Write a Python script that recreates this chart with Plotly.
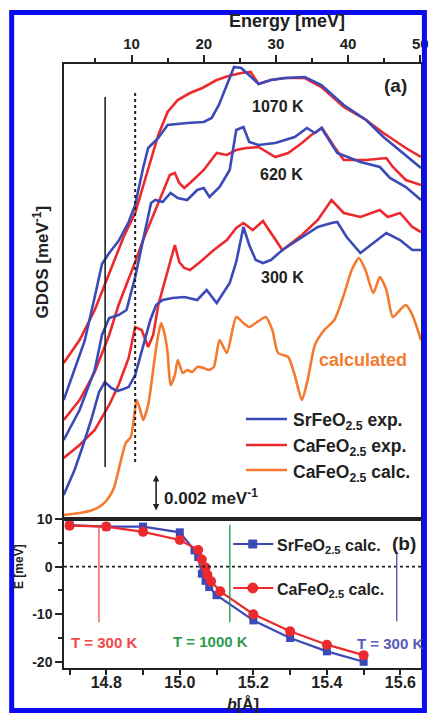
import plotly.graph_objects as go

# ---------------- Panel (a): GDOS curves (arbitrary units, offset stacked) ----------------
E_1070_red = [0.6, 2.8, 4.9, 5.9, 7.6, 8.9, 10.5, 12.3, 13.7, 15.0, 16.4, 18.1, 19.8, 21.8, 23.4, 25.2, 26.5, 27.6, 29.3, 31.3, 34.0, 36.3, 39.4, 42.5, 44.9, 48.0, 50.1]
G_1070_red = [156, 179, 209, 227, 257, 282, 306, 349, 384, 407, 419, 426, 431, 439, 443, 446, 447, 435, 439, 441, 441, 432, 412, 399, 386, 371, 362]

E_1070_blue = [0.6, 1.7, 3.5, 4.9, 5.9, 6.9, 8.2, 9.6, 10.5, 11.6, 12.3, 13.7, 15.0, 17.7, 20.0, 21.1, 22.1, 23.2, 24.2, 25.2, 26.3, 27.6, 29.3, 31.3, 34.0, 36.3, 39.4, 42.5, 44.9, 48.0, 50.1]
G_1070_blue = [119, 141, 178, 222, 255, 266, 278, 297, 314, 351, 371, 381, 394, 396, 397, 401, 414, 434, 452, 451, 444, 435, 439, 441, 442, 434, 414, 399, 382, 364, 351]

E_620_red = [0.6, 2.8, 4.9, 6.9, 8.2, 9.6, 10.5, 11.6, 13.0, 14.3, 15.3, 16.0, 16.6, 17.3, 18.1, 20.0, 21.8, 23.2, 24.5, 25.9, 27.6, 29.9, 31.7, 33.6, 34.9, 36.4, 38.1, 39.4, 41.2, 42.5, 45.3, 46.2, 48.0, 50.1]
G_620_red = [99, 119, 147, 184, 214, 239, 257, 279, 304, 327, 344, 346, 336, 331, 336, 349, 366, 364, 369, 371, 372, 362, 366, 376, 384, 391, 372, 359, 359, 359, 361, 352, 339, 334]

E_620_blue = [0.6, 2.8, 4.9, 5.9, 6.9, 8.2, 9.3, 10.5, 11.6, 12.7, 13.3, 14.3, 15.4, 16.4, 17.7, 19.1, 20.0, 20.8, 22.2, 23.6, 24.5, 25.5, 26.3, 27.6, 29.9, 32.6, 34.3, 35.4, 36.3, 38.5, 41.7, 44.4, 45.8, 48.0, 50.1]
G_620_blue = [79, 109, 149, 184, 201, 204, 209, 242, 279, 316, 319, 317, 326, 321, 319, 329, 331, 322, 332, 349, 389, 392, 377, 374, 376, 382, 391, 386, 391, 366, 357, 352, 341, 332, 319]

E_300_red = [0.6, 2.8, 4.9, 6.9, 8.2, 9.6, 10.5, 11.4, 12.3, 13.0, 13.7, 15.0, 16.0, 16.6, 17.3, 18.1, 19.5, 21.4, 23.2, 24.5, 25.5, 26.8, 28.2, 30.9, 33.6, 35.8, 37.7, 39.4, 41.7, 44.4, 45.5, 47.2, 48.9, 50.1]
G_300_red = [61, 74, 89, 114, 134, 161, 192, 189, 172, 184, 214, 249, 274, 257, 251, 249, 257, 269, 279, 291, 296, 289, 298, 269, 284, 299, 319, 306, 302, 309, 302, 306, 292, 287]

E_300_blue = [0.6, 2.1, 3.2, 4.4, 5.5, 6.3, 7.2, 8.0, 8.9, 9.6, 10.5, 11.6, 12.6, 13.4, 14.3, 15.7, 17.3, 19.1, 20.4, 21.8, 23.6, 24.5, 25.5, 26.3, 27.2, 28.2, 29.3, 30.9, 33.6, 35.8, 37.7, 38.5, 39.8, 41.7, 43.5, 45.3, 47.2, 48.9, 50.1]
G_300_blue = [24, 49, 72, 99, 127, 137, 131, 128, 130, 132, 144, 174, 199, 214, 219, 221, 222, 219, 229, 216, 236, 257, 292, 274, 259, 256, 259, 269, 282, 292, 296, 297, 282, 266, 276, 286, 279, 269, 269]

E_calc = [0.6, 2.8, 4.6, 5.9, 6.9, 7.6, 8.2, 9.2, 9.9, 10.3, 10.7, 11.2, 11.6, 12.3, 13.3, 13.7, 14.1, 14.6, 15.0, 15.4, 16.0, 16.4, 17.1, 17.7, 18.4, 19.1, 20.0, 20.7, 21.4, 22.2, 23.2, 24.5, 25.5, 26.3, 27.2, 28.6, 29.5, 30.3, 31.7, 32.6, 33.6, 34.4, 35.4, 36.7, 38.1, 39.4, 40.5, 41.5, 42.4, 43.5, 44.4, 45.3, 46.2, 47.2, 48.0, 48.9, 50.1]
G_calc = [4, 6, 9, 14, 22, 32, 49, 76, 82, 99, 119, 109, 99, 114, 166, 184, 196, 184, 166, 134, 144, 159, 146, 149, 147, 152, 151, 149, 152, 179, 166, 202, 196, 192, 196, 202, 189, 166, 162, 144, 119, 139, 174, 189, 199, 224, 249, 261, 249, 226, 242, 229, 202, 209, 214, 204, 179]

marker_energies = [6.34, 10.5]          # solid and dotted guide lines (meV)
scale_bar_energy = 13.4                  # position of 0.002 meV^-1 bar
scale_bar_span = [7, 44]                 # 0.002 meV^-1 in plot units

# ---------------- Panel (b): E vs b ----------------
b_Sr = [14.70, 14.80, 14.90, 15.00, 15.04, 15.05, 15.06, 15.07, 15.08, 15.10, 15.20, 15.30, 15.40, 15.50]
E_Sr = [8.7, 8.4, 8.4, 7.2, 3.4, 2.0, -1.5, -3.0, -4.3, -6.0, -11.3, -15.0, -17.8, -20.0]
b_Ca = [14.70, 14.80, 14.90, 15.00, 15.05, 15.06, 15.07, 15.075, 15.085, 15.11, 15.20, 15.30, 15.40, 15.50]
E_Ca = [8.6, 8.4, 7.3, 5.6, 3.5, 1.5, -0.2, -1.7, -3.1, -5.2, -10.0, -13.6, -16.4, -18.6]
b_markers = [14.78, 15.136, 15.59]     # T = 300 K (Ca), T = 1000 K, T = 300 K (Sr)

BLUE = "#3b4ab8"
RED = "#ec2a2e"
ORANGE = "#f47a30"
FONT = "Liberation Sans, Arial, sans-serif"

fig = go.Figure()
for E, G, c in [(E_300_red, G_300_red, RED), (E_300_blue, G_300_blue, BLUE),
                (E_620_red, G_620_red, RED), (E_620_blue, G_620_blue, BLUE),
                (E_1070_red, G_1070_red, RED), (E_1070_blue, G_1070_blue, BLUE),
                (E_calc, G_calc, ORANGE)]:
    fig.add_trace(go.Scatter(x=E, y=G, mode="lines", line=dict(color=c, width=2.6, shape="spline" if c == ORANGE else "linear", smoothing=0.6),
                             showlegend=False, xaxis="x", yaxis="y"))

fig.add_trace(go.Scatter(x=b_Sr, y=E_Sr, mode="lines+markers", line=dict(color=BLUE, width=2.2),
                         marker=dict(symbol="square", size=8, color=BLUE), showlegend=False, xaxis="x2", yaxis="y2"))
fig.add_trace(go.Scatter(x=b_Ca, y=E_Ca, mode="lines+markers", line=dict(color=RED, width=2.2),
                         marker=dict(symbol="circle", size=10, color=RED), showlegend=False, xaxis="x2", yaxis="y2"))

split = (668 - 519) / 604
axline = dict(showline=True, linecolor="#222", linewidth=1.5, mirror=True, zeroline=False, showgrid=False)
tickfont = dict(family=FONT, size=15, color="#222", weight="bold")

fig.update_layout(
    width=435, height=713, margin=dict(l=64, r=6, t=64, b=45),
    paper_bgcolor="white", plot_bgcolor="white", showlegend=False,
    xaxis=dict(domain=[0, 1], anchor="y", side="top", range=[0.64, 50.1], tickvals=[10, 20, 30, 40, 50],
               ticks="outside", ticklen=7, tickwidth=1.5, tickcolor="#222", tickfont=tickfont,
               minor=dict(dtick=5, tick0=0, ticks="outside", ticklen=4, tickcolor="#222", tickwidth=1.5),
               **axline),
    xaxis3=dict(overlaying="x", anchor="y", side="bottom", range=[0.64, 50.1], dtick=5, tick0=0,
                ticks="inside", ticklen=5, tickwidth=1.5, tickcolor="#222", showticklabels=False,
                showline=False, showgrid=False, zeroline=False),
    yaxis=dict(domain=[split, 1], anchor="x", range=[0, 455], showticklabels=False, ticks="", **axline),
    xaxis2=dict(domain=[0, 1], anchor="y2", range=[14.685, 15.656], dtick=0.2, tick0=14.8,
                ticks="outside", ticklen=5, tickwidth=1.5, tickcolor="#222", tickfont=dict(family=FONT, size=16, color="#222", weight="bold"),
                tickformat=".1f", ticklabelstandoff=-6,
                minor=dict(dtick=0.1, tick0=14.7, ticks="outside", ticklen=5, tickcolor="#222", tickwidth=1.5),
                **axline),
    yaxis2=dict(domain=[0, split], anchor="x2", range=[-21.3, 10], tickvals=[10, 0, -10, -20], ticktext=["10", "0", "-10", "-20"],
                ticks="outside", ticklen=7, tickwidth=1.5, tickcolor="#222", tickfont=dict(family=FONT, size=14, color="#222", weight="bold"),
                minor=dict(tickvals=[5, -5, -15], ticks="outside", ticklen=4, tickcolor="#222", tickwidth=1.5),
                **axline),
)

shapes = []
# guide lines in panel (a)
shapes.append(dict(type="line", xref="x", yref="y", x0=marker_energies[0], x1=marker_energies[0], y0=52, y1=422,
                   line=dict(color="#222", width=1.6)))
shapes.append(dict(type="line", xref="x", yref="y", x0=marker_energies[1], x1=marker_energies[1], y0=57, y1=427,
                   line=dict(color="#222", width=2, dash="dot")))
# zero line panel (b)
shapes.append(dict(type="line", xref="paper", yref="y2", x0=0, x1=1, y0=0, y1=0, line=dict(color="#222", width=1.6, dash="dot")))
# temperature markers panel (b)
for bx, col, y0, y1 in [(b_markers[0], "#f05a5a", -11.7, 8.3), (b_markers[1], "#2e9a4e", -11.7, 8.8), (b_markers[2], "#5a5ab8", -11.5, 3.1)]:
    shapes.append(dict(type="line", xref="x2", yref="y2", x0=bx, x1=bx, y0=y0, y1=y1, line=dict(color=col, width=1.4)))

def px(x):
    return (x - 64) / 365

def py(y):
    return (668 - y) / 604

# legend (a)
for yy, col in [(419, BLUE), (445, RED), (470, ORANGE)]:
    shapes.append(dict(type="line", xref="paper", yref="paper", x0=px(250), x1=px(292), y0=py(yy), y1=py(yy), line=dict(color=col, width=2.6)))
# legend (b)
for yy, col, sym in [(544, BLUE, "rect"), (588, RED, "circle")]:
    shapes.append(dict(type="line", xref="paper", yref="paper", x0=px(237), x1=px(278), y0=py(yy), y1=py(yy), line=dict(color=col, width=2.2)))
    r = 4 if sym == "rect" else 5
    shapes.append(dict(type=sym, xref="paper", yref="paper", xsizemode="pixel", ysizemode="pixel",
                       xanchor=px(257), yanchor=py(yy), x0=-r, x1=r, y0=-r, y1=r,
                       fillcolor=col, line=dict(color=col, width=1)))
# blue frame border
shapes.append(dict(type="rect", xref="paper", yref="paper", x0=px(10.5), x1=px(432.5), y0=py(710.5), y1=py(12.5),
                   line=dict(color="#0b0bf2", width=5), layer="above"))
fig.update_layout(shapes=shapes)

def ann(x, y, text, size=15, color="#222", xanchor="center", angle=0):
    return dict(x=px(x), y=py(y), xref="paper", yref="paper", text=text, showarrow=False, xanchor=xanchor, yanchor="middle",
                textangle=angle, font=dict(family=FONT, size=size, color=color, weight="bold"))

anns = [
    ann(292, 21, "Energy [meV]", size=18),
    ann(283, 107, "1070 K", size=16), ann(286, 174, "620 K", size=16), ann(287, 277, "300 K", size=16),
    ann(370, 360, "calculated", size=18, color=ORANGE),
    ann(403, 85, "(a)", size=19), ann(412, 543, "(b)", size=19),
    ann(164, 497, "0.002 meV<sup>-1</sup>", size=17, xanchor="left"),
    ann(296, 421, "SrFeO<sub>2.5</sub> exp.", xanchor="left", size=17.5),
    ann(296, 447, "CaFeO<sub>2.5</sub> exp.", xanchor="left", size=17.5),
    ann(296, 473, "CaFeO<sub>2.5</sub> calc.", xanchor="left", size=17.5),
    ann(280, 546, "SrFeO<sub>2.5</sub> calc.", xanchor="left", size=16),
    ann(280, 590, "CaFeO<sub>2.5</sub> calc.", xanchor="left", size=16),
    ann(105, 642, "T = 300 K", size=15, color="#f04848"),
    ann(214, 641, "T = 1000 K", size=15, color="#2e9a4e"),
    ann(397, 643, "T = 300 K", size=15, color="#5a5ab8"),
    ann(40, 262, "GDOS [meV<sup>-1</sup>]", size=17, angle=-90),
    ann(18, 567, "E [meV]", size=12, angle=-90),
    ann(247, 704, "<i>b</i>[Å]", size=16),
]
# scale bar (double arrow)
anns.append(dict(x=scale_bar_energy, y=scale_bar_span[1], ax=scale_bar_energy, ay=scale_bar_span[0], xref="x", yref="y",
                 axref="x", ayref="y", showarrow=True, arrowhead=2, arrowside="end+start", arrowsize=0.8, arrowwidth=1.6,
                 arrowcolor="#222", text=""))
fig.update_layout(annotations=anns)

fig.write_html("out.html")
